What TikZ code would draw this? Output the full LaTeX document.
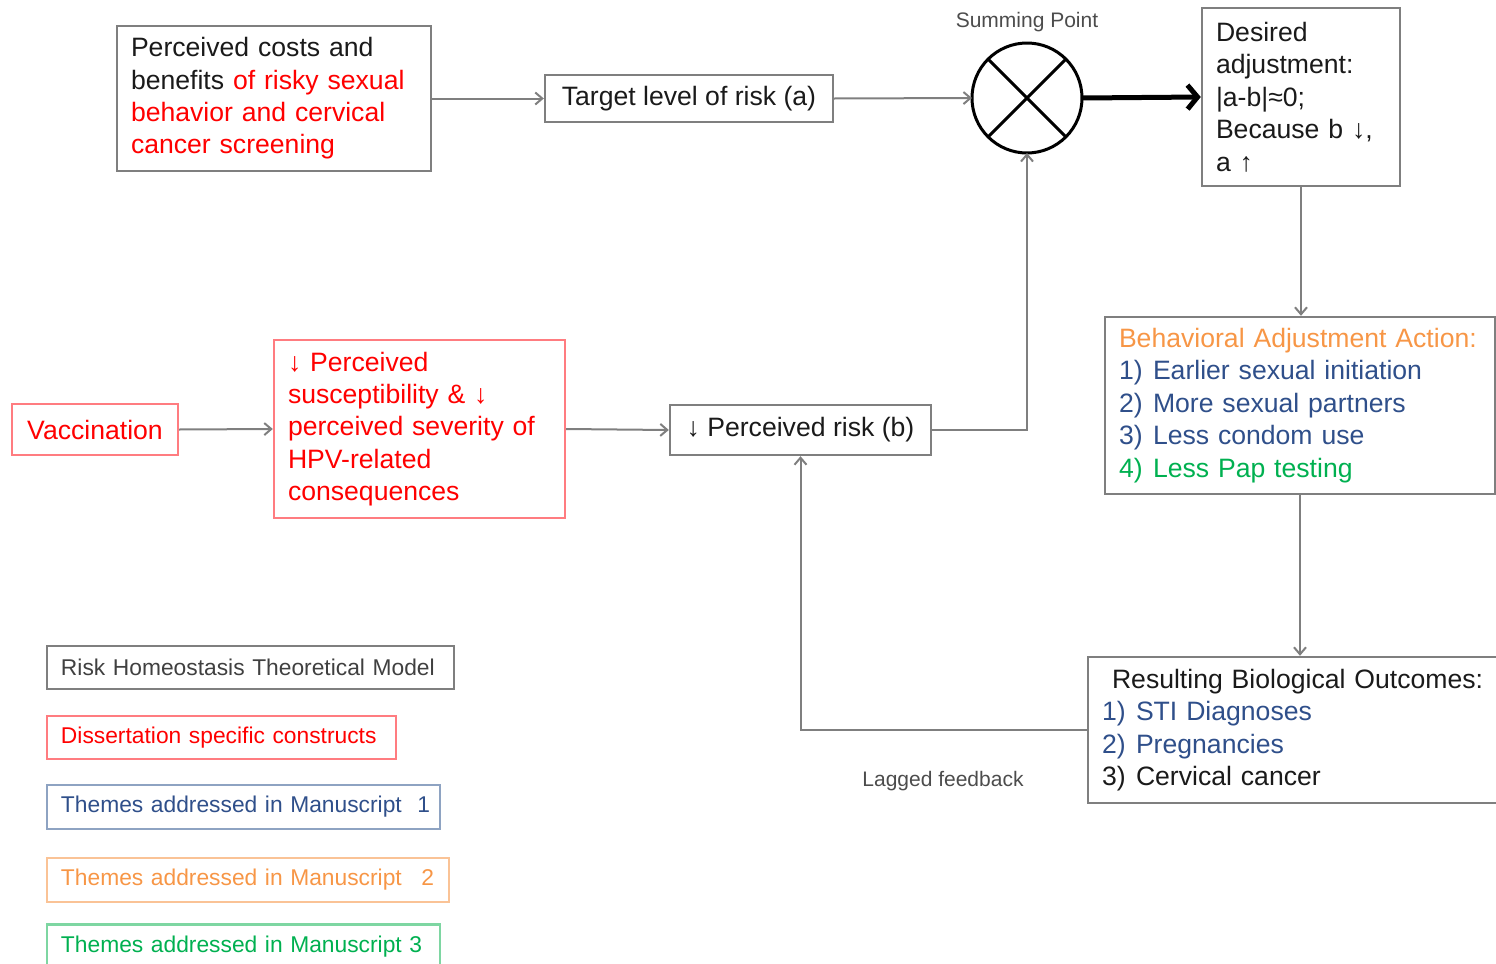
\documentclass[tikz,border=0pt]{standalone}
\usepackage{fontspec}
\setmainfont{Liberation Sans}
\usetikzlibrary{arrows.meta}
\definecolor{boxgray}{HTML}{7F7F7F}
\definecolor{redtxt}{HTML}{FF0000}
\definecolor{redbox}{HTML}{FF7C80}
\definecolor{bluetxt}{HTML}{2F4F8A}
\definecolor{bluebox}{HTML}{8EA3C2}
\definecolor{orangetxt}{HTML}{F79646}
\definecolor{orangebox}{HTML}{FAC396}
\definecolor{greentxt}{HTML}{00B050}
\definecolor{greenbox}{HTML}{7ED6A2}
\definecolor{txt}{HTML}{1A1A1A}
\newcommand\numlab[1]{\makebox[17pt][l]{#1}}
\begin{document}
\begin{tikzpicture}[x=0.5pt,y=-0.5pt,
  box/.style={draw=boxgray, line width=1.2pt, rectangle, inner xsep=7pt, inner ysep=0pt,
    font=\fontsize{13.3}{16.2}\selectfont, text=txt},
  legbox/.style={draw=boxgray, line width=1.2pt, rectangle, inner xsep=7pt, inner ysep=0pt,
    font=\fontsize{11.4}{13}\selectfont, align=left, minimum height=21.5pt},
  conn/.style={draw=boxgray, line width=1pt, -{Straight Barb[length=3.5pt,width=6pt]}},
  thickarrow/.style={draw=black, line width=2.5pt, -{Straight Barb[length=5pt,width=12pt]}},
  lab/.style={font=\fontsize{10.5}{12}\selectfont, text=black!70}
]
\useasboundingbox (0,0) rectangle (1496,964);

% main boxes
\node[box, text width=143pt, minimum height=72.5pt, align=left] (costs) at (274,98.5)
  {Perceived costs and\\benefits \textcolor{redtxt}{of risky sexual}\\\textcolor{redtxt}{behavior and cervical}\\\textcolor{redtxt}{cancer screening}};
\node[box, minimum width=144pt, minimum height=23.5pt, align=center] (target) at (689,98.5)
  {Target level of risk (a)};
\node[circle, draw=black, line width=1.5pt, minimum size=55pt, inner sep=0pt, outer sep=0pt] (sum) at (1027,98) {};
\draw[line width=1.5pt] (sum.north west) -- (sum.south east) (sum.north east) -- (sum.south west);
\node[lab] (sumlab) at (1027,22) {Summing Point};
\node[box, text width=85pt, minimum height=89pt, align=left] (desired) at (1301,97)
  {Desired\\adjustment:\\|a-b|≈0;\\Because b ↓,\\a ↑};
\node[box, text width=181pt, minimum height=88.5pt, align=left] (behav) at (1300,405.5)
  {\textcolor{orangetxt}{Behavioral Adjustment Action:}\\
   \textcolor{bluetxt}{\numlab{1)}Earlier sexual initiation}\\
   \textcolor{bluetxt}{\numlab{2)}More sexual partners}\\
   \textcolor{bluetxt}{\numlab{3)}Less condom use}\\
   \textcolor{greentxt}{\numlab{4)}Less Pap testing}};
\node[box, text width=192.5pt, minimum height=73pt, align=left] (result) at (1294.5,730)
  {\hspace*{5pt}Resulting Biological Outcomes:\\
   \textcolor{bluetxt}{\numlab{1)}STI Diagnoses}\\
   \textcolor{bluetxt}{\numlab{2)}Pregnancies}\\
   \numlab{3)}Cervical cancer};
\node[box, minimum width=130.5pt, minimum height=25pt] (risk) at (800.5,430)
  {↓ Perceived risk (b)};
\node[box, draw=redbox, text=redtxt, minimum width=83pt, minimum height=25.5pt] (vacc) at (95,429.5)
  {Vaccination};
\node[box, draw=redbox, text=redtxt, text width=131.5pt, minimum height=89pt, align=left] (hpv) at (419.5,429)
  {↓ Perceived\\susceptibility \& ↓\\perceived severity of\\HPV-related\\consequences};
\node[lab] (lag) at (943,781) {Lagged feedback};

% legend
\node[legbox, text=black!75, text width=189.5pt] (leg1) at (250.5,667.5) {\mbox{Risk Homeostasis Theoretical Model}};
\node[legbox, draw=redbox, text=redtxt, text width=160.5pt] (leg2) at (221.5,737.5) {\mbox{Dissertation specific constructs}};
\node[legbox, draw=bluebox, text=bluetxt, text width=182.5pt, minimum height=22pt] (leg3) at (243.5,807) {\mbox{Themes addressed in Manuscript\hspace{4pt} 1}};
\node[legbox, draw=orangebox, text=orangetxt, text width=187pt, minimum height=22pt] (leg4) at (248,880) {\mbox{Themes addressed in Manuscript\hspace{6pt} 2}};
\node[legbox, draw=greenbox, text=greentxt, text width=182.5pt, minimum height=22pt] (leg5) at (243.5,946.5) {\mbox{Themes addressed in Manuscript 3}};

% connectors
\draw[conn] (costs.east) -- (target.west);
\draw[conn] (target.east) -- (sum.west);
\draw[thickarrow] (sum.east) -- (desired.west);
\draw[conn] (desired.south) -- (desired.south |- behav.north);
\draw[conn] (behav.south) -- (behav.south |- result.north);
\draw[conn] (result.west) -| (risk.south);
\draw[conn] (risk.east) -| (sum.south);
\draw[conn] (vacc.east) -- (hpv.west);
\draw[conn] (hpv.east) -- (risk.west);
\end{tikzpicture}
\end{document}
